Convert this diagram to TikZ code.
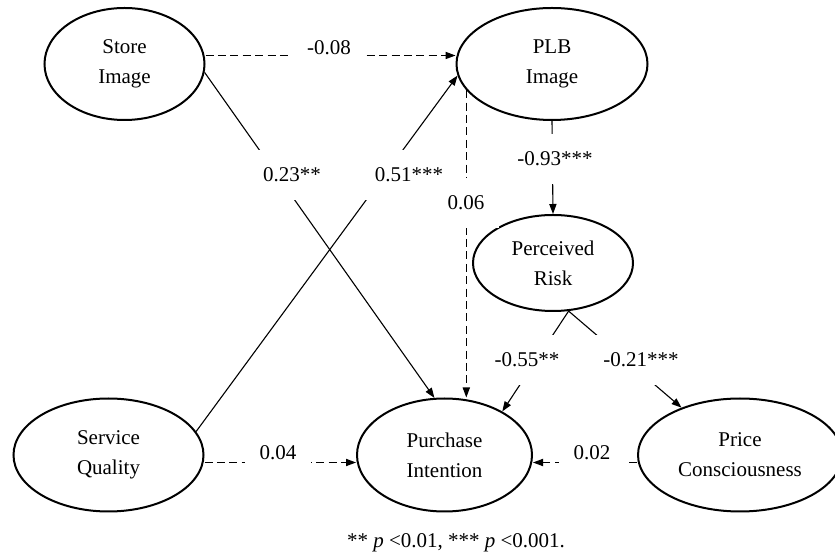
\documentclass[tikz,border=0pt]{standalone}
\usepackage{fontspec}
\setmainfont{Liberation Serif}
\usetikzlibrary{shapes.geometric,arrows.meta}

\tikzset{
  latent/.style={ellipse,draw,line width=1pt,inner sep=0pt,align=center,minimum height=56pt},
  coef/.style={fill=white,inner xsep=7.5pt,inner ysep=9pt},
  link/.style={line width=0.55pt,-{Triangle[length=5pt,width=3.6pt]}},
  weak/.style={link,dash pattern=on 4pt off 2.2pt}
}

\begin{document}
\begin{tikzpicture}[x=0.5pt,y=-0.5pt,font=\fontsize{10.5}{15}\selectfont]
    \useasboundingbox (0,0) rectangle (835,560);
    % constructs
    \node (si)  at (124.5,64)  [latent,minimum width=80pt] {Store\\Image};
    \node (plb) at (552,64)    [latent,minimum width=95.5pt] {PLB\\Image};
    \node (pr)  at (553,263)   [latent,minimum width=80pt,minimum height=48pt] {Perceived\\Risk};
    \node (sq)  at (108.5,455) [latent,minimum width=95pt,minimum height=56.5pt] {Service\\Quality};
    \node (pi)  at (444.5,455) [latent,minimum width=87.5pt,minimum height=56.5pt] {Purchase\\Intention};
    \node (pc)  at (740,455)   [latent,minimum width=102pt,minimum height=56.5pt] {Price\\Consciousness};
    % paths
    \draw[weak] ([yshift=4.25pt]si.east) -- ([yshift=4.25pt]plb.west);
    \draw[link] (si.-6) -- (pi.100);
    \draw[link] (sq.15) -- (plb.187);
    \draw[weak] (plb.197) -- (plb.197 |- pi.north);
    \draw[link] (plb.south) -- (pr.north);
    \draw[link] (pr.-72) -- (pi.37);
    \draw[link] (pr.-72) -- (pc.141);
    \draw[weak] ([yshift=-3.75pt]sq.east) -- ([yshift=-3.75pt]pi.west);
    \draw[weak] ([yshift=-3.75pt]pc.west) -- ([yshift=-3.75pt]pi.east);
    % coefficients
    \node (c08) at (329,48)  [coef] {-0.08};
    \node (c23) at (292,175) [coef] {0.23**};
    \node (c51) at (409,175) [coef] {0.51***};
    \node (c06) at (466,203) [coef] {0.06};
    \node (c93) at (555,159) [coef] {-0.93***};
    \node (c55) at (527,360) [coef] {-0.55**};
    \node (c21) at (641,360) [coef] {-0.21***};
    \node (c04) at (278,453) [coef] {0.04};
    \node (c02) at (592,453) [coef] {0.02};
    % note
    \node (note) at (456,543) {** \textit{p} <0.01, *** \textit{p} <0.001.};
\end{tikzpicture}
\end{document}
